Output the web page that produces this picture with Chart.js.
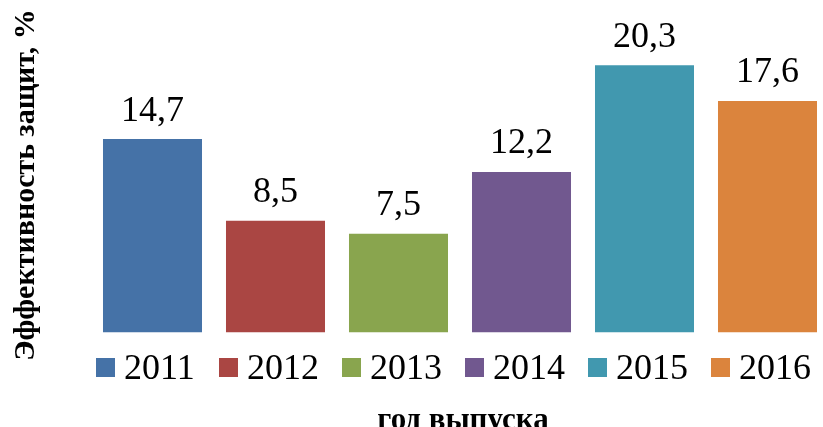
<!DOCTYPE html>
<html>
<head>
<meta charset="utf-8">
<script src="https://cdn.jsdelivr.net/npm/chart.js@4/dist/chart.umd.min.js"></script>
<style>
html,body{margin:0;padding:0;background:#fff;overflow:hidden;width:823px;height:427px;}
#wrap{position:absolute;left:0;top:0;width:835px;height:440px;}
</style>
</head>
<body>
<div id="wrap"><canvas id="c" width="835" height="440"></canvas></div>
<script>
const categories = ['2011', '2012', '2013', '2014', '2015', '2016'];
const values = [14.7, 8.5, 7.5, 12.2, 20.3, 17.6];
const colors = ['#4572A7', '#AA4643', '#89A54E', '#71588F', '#4198AF', '#DB843D'];
const yTitle = 'Эффективность защит, %';
const xTitle = 'год выпуска';

const serif = '"Liberation Serif", "Times New Roman", serif';

const overlay = {
  id: 'overlay',
  afterDatasetsDraw(chart) {
    const ctx = chart.ctx;
    const meta = chart.getDatasetMeta(0);
    ctx.save();
    // value labels
    ctx.fillStyle = '#000';
    ctx.font = '36px ' + serif;
    ctx.textAlign = 'center';
    ctx.textBaseline = 'alphabetic';
    meta.data.forEach((bar, i) => {
      ctx.fillText(values[i].toFixed(1).replace('.', ','), bar.x, bar.y - 18.5);
    });
    // legend
    ctx.textAlign = 'left';
    categories.forEach((c, i) => {
      const bx = meta.data[i].x - 56.5;
      ctx.fillStyle = colors[i];
      ctx.fillRect(bx, 358, 19, 19);
      ctx.fillStyle = '#000';
      ctx.fillText(c, bx + 28, 379);
    });
    // axis titles
    ctx.font = 'bold 31px ' + serif;
    ctx.textAlign = 'center';
    ctx.fillText(xTitle, (chart.chartArea.left + chart.chartArea.right) / 2 + 3, 429);
    ctx.font = 'bold 30px ' + serif;
    ctx.translate(34, 185);
    ctx.rotate(-Math.PI / 2);
    ctx.fillText(yTitle, 0, 0);
    ctx.restore();
  }
};

new Chart(document.getElementById('c'), {
  type: 'bar',
  data: {
    labels: categories,
    datasets: [{
      data: values,
      backgroundColor: colors,
      borderWidth: 0,
      barPercentage: 0.805,
      categoryPercentage: 1.0
    }]
  },
  options: {
    responsive: false,
    animation: false,
    devicePixelRatio: 1,
    layout: { padding: { left: 91, right: 6, top: 3.5, bottom: 107.5 } },
    plugins: { legend: { display: false }, tooltip: { enabled: false } },
    scales: {
      x: { display: false, grid: { display: false } },
      y: { display: false, min: 0, max: 25, grid: { display: false } }
    }
  },
  plugins: [overlay]
});
</script>
</body>
</html>
